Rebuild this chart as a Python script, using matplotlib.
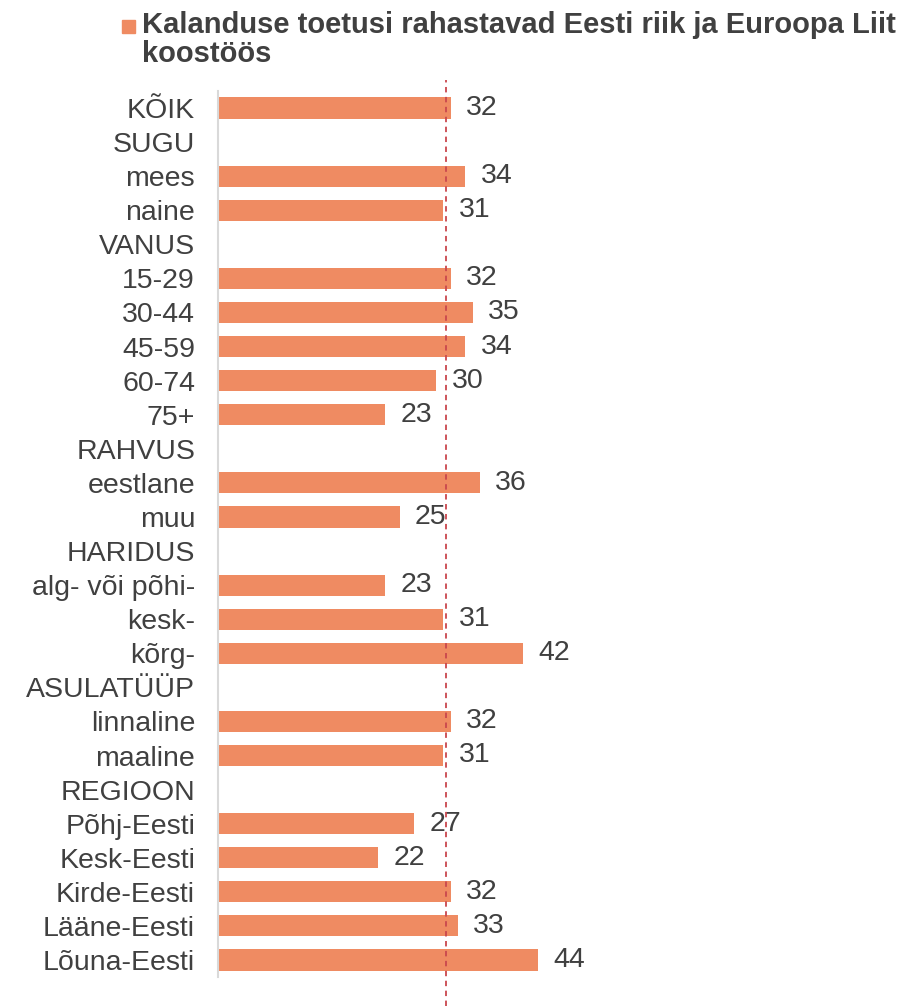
import numpy as np
import matplotlib
matplotlib.use("Agg")
import matplotlib.pyplot as plt
from matplotlib.patches import Rectangle

plt.rcParams['font.family'] = ['Liberation Sans', 'DejaVu Sans']

categories = ["KÕIK", "SUGU", "mees", "naine", "VANUS", "15-29", "30-44", "45-59",
              "60-74", "75+", "RAHVUS", "eestlane", "muu", "HARIDUS",
              "alg- või põhi-", "kesk-", "kõrg-", "ASULATÜÜP", "linnaline",
              "maaline", "REGIOON", "Põhj-Eesti", "Kesk-Eesti", "Kirde-Eesti",
              "Lääne-Eesti", "Lõuna-Eesti"]
values = [32, None, 34, 31, None, 32, 35, 34, 30, 23, None, 36, 25, None,
          23, 31, 42, None, 32, 31, None, 27, 22, 32, 33, 44]
reference_line = 31.4
series_name = "Kalanduse toetusi rahastavad Eesti riik ja Euroopa Liit\nkoostöös"

bar_color = "#EF8B62"
text_color = "#404040"

fig = plt.figure(figsize=(9.04, 10.06), dpi=100)
W, H = 904, 1006
ax = fig.add_axes([218 / W, 29 / H, 668 / W, 886 / H])

y = np.arange(len(categories))
vals = np.array([np.nan if v is None else v for v in values], dtype=float)
mask = ~np.isnan(vals)
ax.barh(y[mask], vals[mask], height=0.62, color=bar_color, zorder=2)

for yi, v in zip(y[mask], vals[mask]):
    ax.annotate(f"{v:.0f}", (v, yi), xytext=(11, 0), textcoords="offset points",
                va="center", ha="left", fontsize=20.5, color=text_color)

ax.axvline(reference_line, ymin=-0.033, ymax=1.0125, clip_on=False,
           color="#C9474D", linestyle=(0, (3, 2.5)), linewidth=1.3, zorder=3)

ax.set_xlim(0, 668 / 7.273)
ax.set_ylim(len(categories) - 0.5, -0.5)
ax.set_yticks(y)
ax.set_yticklabels(categories, fontsize=20.5, color=text_color)
ax.tick_params(axis='y', length=0, pad=16.5)
ax.set_xticks([])
for s in ["top", "right", "bottom"]:
    ax.spines[s].set_visible(False)
ax.spines["left"].set_color("#D9D9D9")
ax.spines["left"].set_linewidth(1.5)

# legend
fig.patches.append(Rectangle((122 / W, 1 - 33 / H), 13 / W, 13 / H,
                             transform=fig.transFigure, color=bar_color))
fig.text(142 / W, 1 - 11 / H, series_name, ha="left", va="top", fontsize=21,
         fontweight="bold", color=text_color, linespacing=1.05)

fig.savefig("out.png", dpi=100)
